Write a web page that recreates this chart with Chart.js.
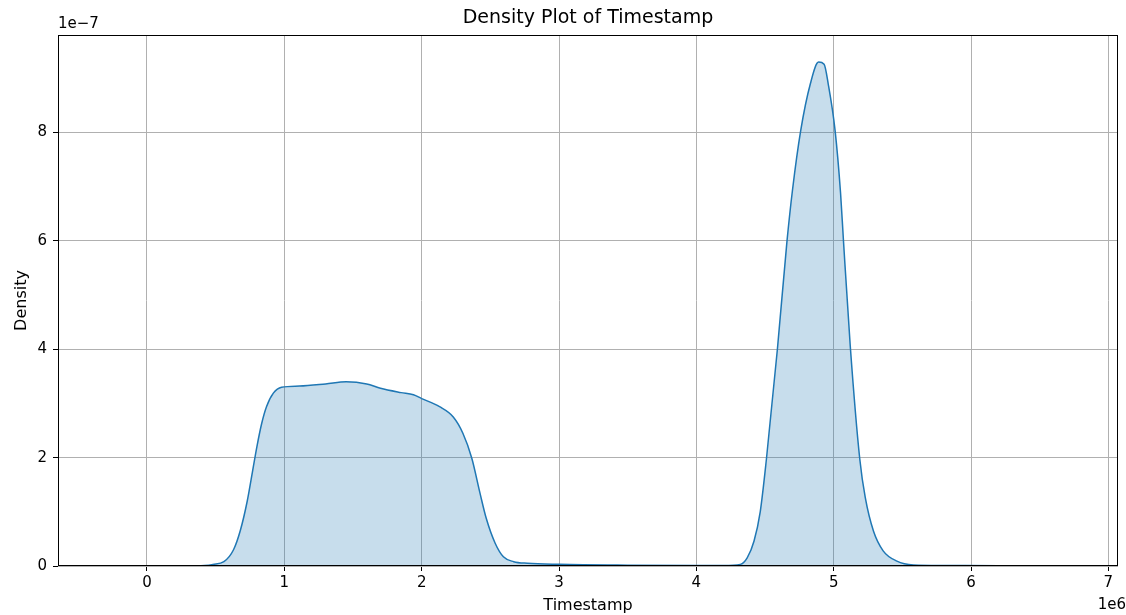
<!doctype html>
<html lang="en">
  <head>
    <meta charset="UTF-8" />
    <title>Density Plot of Timestamp</title>
    <script src="https://cdn.jsdelivr.net/npm/chart.js"></script>
    <style>
      body {
        margin: 0;
        background: #ffffff;
      }
      .wrap {
        width: 1126px;
        height: 615px;
      }
    </style>
  </head>
  <body>
    <div class="wrap"><canvas id="kde"></canvas></div>
    <script>
      // x in units of 1e6, density in units of 1e-7 (matching the axis offset labels)
      const timestamps = [
        -0.28, 0.0, 0.3, 0.42, 0.48, 0.56, 0.63, 0.68, 0.73, 0.77, 0.8, 0.835, 0.87, 0.92, 0.98,
        1.11, 1.3, 1.45, 1.6, 1.7, 1.85, 1.94, 2.0, 2.13, 2.23, 2.3, 2.365, 2.425, 2.47, 2.535,
        2.595, 2.67, 2.77, 3.0, 3.5, 4.0, 4.2, 4.32, 4.37, 4.42, 4.465, 4.51, 4.59, 4.66,
        4.7, 4.76, 4.83, 4.89, 4.93, 4.96, 5.01, 5.05, 5.07, 5.12, 5.19, 5.23, 5.29, 5.36, 5.46,
        5.58, 5.8, 6.2, 6.75
      ];
      const density = [
        0, 0, 0, 0.01, 0.03, 0.08, 0.3, 0.66, 1.2, 1.77, 2.2, 2.63, 2.94, 3.19, 3.3,
        3.32, 3.36, 3.4, 3.36, 3.28, 3.2, 3.16, 3.09, 2.94, 2.75, 2.45, 1.99, 1.34, 0.88, 0.42,
        0.17, 0.08, 0.05, 0.03, 0.015, 0.01, 0.01, 0.03, 0.15, 0.46, 1.0, 1.97, 4.0, 6.0,
        6.94, 8.04, 8.9, 9.3, 9.26, 8.9, 8.04, 6.88, 6.05, 4.08, 1.97, 1.26, 0.64, 0.28, 0.09,
        0.02, 0.01, 0.005, 0
      ];
      const xTicks = [0, 1, 2, 3, 4, 5, 6, 7];
      const yTicks = [0, 2, 4, 6, 8];

      const font = "DejaVu Sans";

      // matplotlib-like frame, title and offset labels
      const frame = {
        id: "frame",
        afterDraw(chart) {
          const { ctx, chartArea: a } = chart;
          ctx.save();
          ctx.strokeStyle = "#000";
          ctx.lineWidth = 1;
          ctx.strokeRect(a.left + 0.5, a.top + 0.5, a.right - a.left - 1, a.bottom - a.top - 1);
          ctx.fillStyle = "#000";
          ctx.font = "19px '" + font + "'";
          ctx.textAlign = "center";
          ctx.textBaseline = "middle";
          ctx.fillText("Density Plot of Timestamp", (a.left + a.right) / 2, 18);
          ctx.font = "15px '" + font + "'";
          ctx.textAlign = "left";
          ctx.fillText("1e\u22127", a.left, 24);
          ctx.textAlign = "right";
          ctx.fillText("1e6", 1126, 605);
          ctx.restore();
        }
      };

      new Chart(document.getElementById("kde"), {
        type: "line",
        data: {
          datasets: [
            {
              data: timestamps.map((t, i) => ({ x: t, y: density[i] })),
              borderColor: "#1f77b4",
              borderWidth: 1.5,
              backgroundColor: "rgba(31, 119, 180, 0.25)",
              fill: "origin",
              pointRadius: 0,
              cubicInterpolationMode: "monotone"
            }
          ]
        },
        options: {
          responsive: true,
          maintainAspectRatio: false,
          animation: false,
          layout: { padding: { top: 35, right: 8, left: 0, bottom: 0 } },
          plugins: {
            legend: { display: false },
            tooltip: { enabled: false },
            title: { display: false }
          },
          scales: {
            x: {
              type: "linear",
              min: -0.648,
              max: 7.07,
              afterBuildTicks: (s) => { s.ticks = xTicks.map((v) => ({ value: v })); },
              afterFit: (s) => { s.height = 49; },
              grid: { color: "#b0b0b0", lineWidth: 1, tickColor: "#000", tickLength: 5 },
              border: { display: false },
              ticks: { color: "#000", font: { family: font, size: 15 }, padding: 3, maxRotation: 0 },
              title: {
                display: true,
                text: "Timestamp",
                color: "#000",
                font: { family: font, size: 16 },
                padding: { top: 0, bottom: 0 }
              }
            },
            y: {
              min: 0,
              max: 9.8,
              afterBuildTicks: (s) => { s.ticks = yTicks.map((v) => ({ value: v })); },
              afterFit: (s) => { s.width = 58; },
              grid: { color: "#b0b0b0", lineWidth: 1, tickColor: "#000", tickLength: 5 },
              border: { display: false },
              ticks: { color: "#000", font: { family: font, size: 15 }, padding: 6 },
              title: {
                display: true,
                text: "Density",
                color: "#000",
                font: { family: font, size: 16 },
                padding: { top: 12, bottom: 0 }
              }
            }
          }
        },
        plugins: [frame]
      });
    </script>
  </body>
</html>
